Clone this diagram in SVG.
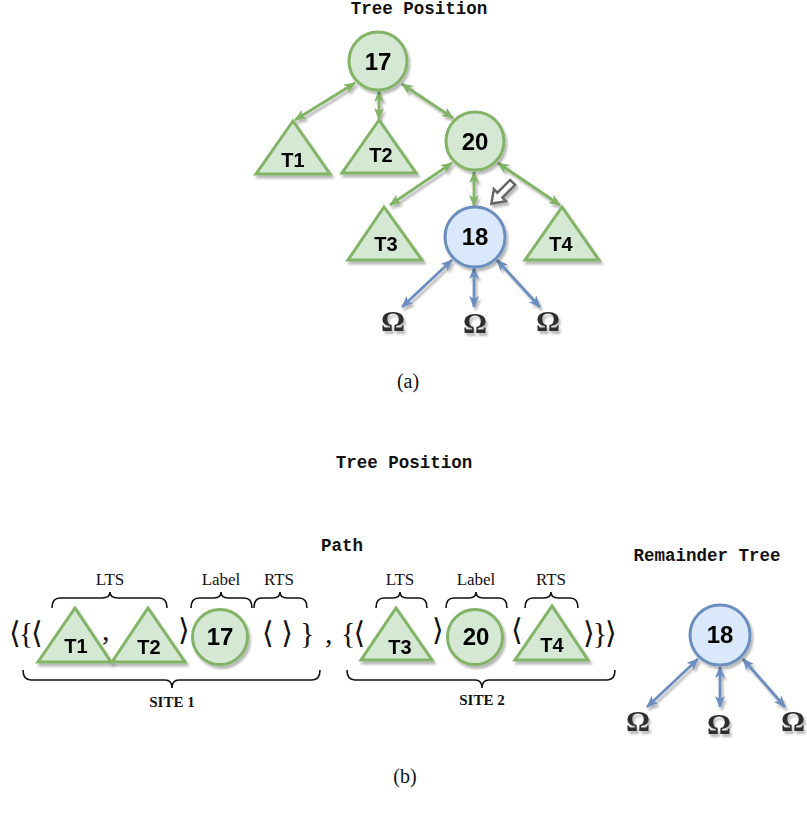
<svg xmlns="http://www.w3.org/2000/svg" width="807" height="814" viewBox="0 0 807 814">
  <defs>
    <filter id="shadow" x="-20%" y="-20%" width="150%" height="150%">
      <feDropShadow dx="2" dy="3" stdDeviation="1.2" flood-color="#000" flood-opacity="0.28"/>
    </filter>
    <marker id="ahGreen" viewBox="0 0 12 10" refX="11" refY="5" markerWidth="12" markerHeight="10" markerUnits="userSpaceOnUse" orient="auto-start-reverse">
      <path d="M0,0 L12,5 L0,10 L3,5 z" fill="#82b366"/>
    </marker>
    <marker id="ahBlue" viewBox="0 0 12 10" refX="11" refY="5" markerWidth="12" markerHeight="10" markerUnits="userSpaceOnUse" orient="auto-start-reverse">
      <path d="M0,0 L12,5 L0,10 L3,5 z" fill="#6c8ebf"/>
    </marker>
    <style>
      .title { font-family: "Liberation Mono", "Courier New", monospace; font-size: 17.5px; font-weight: bold; fill: #111; text-anchor: middle; }
      .gnode { fill: #d5e8d4; stroke: #82b366; stroke-width: 3; }
      .bnode { fill: #dae8fc; stroke: #6c8ebf; stroke-width: 3; }
      .lbl { font-family: "Liberation Sans", Arial, sans-serif; font-weight: bold; fill: #000; text-anchor: middle; }
      .num { font-size: 24px; }
      .tri { font-size: 20px; }
      .gedge { stroke: #82b366; stroke-width: 2.8; fill: none; marker-start: url(#ahGreen); marker-end: url(#ahGreen); }
      .bedge { stroke: #6c8ebf; stroke-width: 2.8; fill: none; marker-start: url(#ahBlue); marker-end: url(#ahBlue); }
      .omega { font-family: "Liberation Serif", "Times New Roman", serif; font-weight: bold; font-size: 30px; fill: #2e2e2e; text-anchor: middle; }
      .br { font-family: "Liberation Serif", "DejaVu Serif", "DejaVu Sans", serif; font-size: 30px; fill: #111; }
      .brace { fill: none; stroke: #111; stroke-width: 1.6; }
      .cap { font-family: "Liberation Serif", "Times New Roman", serif; font-size: 17px; fill: #111; text-anchor: middle; }
      .site { font-family: "Liberation Serif", "Times New Roman", serif; font-size: 15px; font-weight: bold; fill: #111; text-anchor: middle; }
      .fig { font-family: "Liberation Serif", "Times New Roman", serif; font-size: 20px; fill: #111; text-anchor: middle; }
    </style>
  </defs>

  <!-- ===== (a) tree ===== -->
  <text class="title" x="419" y="14">Tree Position</text>

  <g id="connectors-a" filter="url(#shadow)">
    <line class="gedge" x1="355" y1="83" x2="295" y2="120"/>
    <line class="gedge" x1="379" y1="91" x2="379" y2="119"/>
    <line class="gedge" x1="402" y1="84" x2="453" y2="118"/>
    <line class="gedge" x1="452" y1="163" x2="390" y2="205"/>
    <line class="gedge" x1="474" y1="172" x2="474" y2="206"/>
    <line class="gedge" x1="498" y1="163" x2="560" y2="205"/>
    <line class="bedge" x1="452" y1="260" x2="402" y2="307"/>
    <line class="bedge" x1="474" y1="268" x2="474" y2="307"/>
    <line class="bedge" x1="497" y1="260" x2="540" y2="307"/>
  </g>

  <g id="a-n17" filter="url(#shadow)">
    <circle class="gnode" cx="378" cy="61" r="29"/>
    <text class="lbl num" x="378" y="70">17</text>
  </g>
  <g id="a-n20" filter="url(#shadow)">
    <circle class="gnode" cx="475" cy="141" r="29"/>
    <text class="lbl num" x="475" y="150">20</text>
  </g>
  <g id="a-t1" filter="url(#shadow)">
    <polygon class="gnode" points="293,121 330,174 256,174"/>
    <text class="lbl tri" x="293" y="167">T1</text>
  </g>
  <g id="a-t2" filter="url(#shadow)">
    <polygon class="gnode" points="379,120 416,173 342,173"/>
    <text class="lbl tri" x="381" y="162">T2</text>
  </g>
  <g id="a-t3" filter="url(#shadow)">
    <polygon class="gnode" points="384,207 422,260 348,260"/>
    <text class="lbl tri" x="386" y="251">T3</text>
  </g>
  <g id="a-t4" filter="url(#shadow)">
    <polygon class="gnode" points="562,207 599,260 525,260"/>
    <text class="lbl tri" x="561" y="251">T4</text>
  </g>
  <g id="a-n18" filter="url(#shadow)">
    <circle class="bnode" cx="475" cy="237" r="30"/>
    <text class="lbl num" x="475" y="245">18</text>
  </g>
  <!-- hollow pointer toward node 18 -->
  <g id="a-pointer" filter="url(#shadow)">
    <polygon points="-15,-3.5 3,-3.5 3,-8.5 15,0 3,8.5 3,3.5 -15,3.5" transform="translate(502,193) rotate(135)" fill="#fff" stroke="#666" stroke-width="2.5" stroke-linejoin="miter"/>
  </g>
  <g id="a-leaves" filter="url(#shadow)">
    <text class="omega" x="393" y="331">Ω</text>
    <text class="omega" x="475" y="333">Ω</text>
    <text class="omega" x="548" y="331">Ω</text>
  </g>

  <text class="fig" x="408" y="388">(a)</text>

  <!-- ===== (b) path / remainder ===== -->
  <text class="title" x="404" y="468">Tree Position</text>
  <text class="title" x="342" y="551">Path</text>
  <text class="title" x="707" y="561">Remainder Tree</text>

  <!-- braces above the elements -->
  <g id="braces">
    <path class="brace" d="M52,608 Q52,598 60,598 L102,598 Q110,598 110,592 Q110,598 118,598 L159,598 Q167,598 167,608"/>
    <path class="brace" d="M191,608 Q191,598 199,598 L214,598 Q221,598 221,592 Q221,598 228,598 L244,598 Q252,598 252,608"/>
    <path class="brace" d="M254,608 Q254,598 262,598 L273,598 Q280,598 280,592 Q280,598 287,598 L299,598 Q307,598 307,608"/>
    <path class="brace" d="M376,608 Q376,598 384,598 L393,598 Q400,598 400,592 Q400,598 407,598 L419,598 Q427,598 427,608"/>
    <path class="brace" d="M446,608 Q446,598 454,598 L469,598 Q476,598 476,592 Q476,598 483,598 L499,598 Q507,598 507,608"/>
    <path class="brace" d="M525,608 Q525,598 533,598 L544,598 Q551,598 551,592 Q551,598 558,598 L570,598 Q578,598 578,608"/>
    <path class="brace" d="M23,670 Q23,680 31,680 L165,680 Q172,680 172,688 Q172,680 179,680 L312,680 Q320,680 320,670"/>
    <path class="brace" d="M347,670 Q347,680 355,680 L475,680 Q482,680 482,688 Q482,680 489,680 L607,680 Q615,680 615,670"/>
  </g>
  <g id="brace-labels">
    <text class="cap" x="110" y="585">LTS</text>
    <text class="cap" x="221" y="585">Label</text>
    <text class="cap" x="279" y="585">RTS</text>
    <text class="cap" x="400" y="585">LTS</text>
    <text class="cap" x="476" y="585">Label</text>
    <text class="cap" x="551" y="585">RTS</text>
    <text class="site" x="172" y="707">SITE 1</text>
    <text class="site" x="482" y="705">SITE 2</text>
  </g>

  <!-- bracket characters of the path expression -->
  <g id="brackets">
    <text class="br" x="9" y="643" letter-spacing="-2">⟨{⟨</text>
    <text class="br" x="102" y="640">,</text>
    <text class="br" x="178" y="640">⟩</text>
    <text class="br" x="262" y="643" xml:space="preserve">⟨ ⟩</text>
    <text class="br" x="300" y="643">}</text>
    <text class="br" x="325" y="643">,</text>
    <text class="br" x="341" y="643" letter-spacing="-2">{⟨</text>
    <text class="br" x="432" y="640">⟩</text>
    <text class="br" x="511" y="640">⟨</text>
    <text class="br" x="583" y="643" letter-spacing="-2">⟩}⟩</text>
  </g>

  <g id="b-t1" filter="url(#shadow)">
    <polygon class="gnode" points="75,608 111,662 38,662"/>
    <text class="lbl tri" x="76" y="653">T1</text>
  </g>
  <g id="b-t2" filter="url(#shadow)">
    <polygon class="gnode" points="148,608 185,662 112,662"/>
    <text class="lbl tri" x="149" y="654">T2</text>
  </g>
  <g id="b-n17" filter="url(#shadow)">
    <circle class="gnode" cx="220" cy="637" r="27.5"/>
    <text class="lbl num" x="220" y="645">17</text>
  </g>
  <g id="b-t3" filter="url(#shadow)">
    <polygon class="gnode" points="396,608 432,660 361,660"/>
    <text class="lbl tri" x="400" y="654">T3</text>
  </g>
  <g id="b-n20" filter="url(#shadow)">
    <circle class="gnode" cx="475" cy="637" r="27.5"/>
    <text class="lbl num" x="476" y="645">20</text>
  </g>
  <g id="b-t4" filter="url(#shadow)">
    <polygon class="gnode" points="552,606 588,660 515,660"/>
    <text class="lbl tri" x="552" y="652">T4</text>
  </g>

  <g id="connectors-b" filter="url(#shadow)">
    <line class="bedge" x1="698" y1="659" x2="647" y2="707"/>
    <line class="bedge" x1="720" y1="667" x2="720" y2="707"/>
    <line class="bedge" x1="743" y1="659" x2="785" y2="707"/>
  </g>
  <g id="b-n18" filter="url(#shadow)">
    <circle class="bnode" cx="720" cy="635" r="30"/>
    <text class="lbl num" x="720" y="643">18</text>
  </g>
  <g id="b-leaves" filter="url(#shadow)">
    <text class="omega" x="638" y="731">Ω</text>
    <text class="omega" x="719" y="734">Ω</text>
    <text class="omega" x="793" y="731">Ω</text>
  </g>

  <text class="fig" x="405" y="783">(b)</text>
</svg>
